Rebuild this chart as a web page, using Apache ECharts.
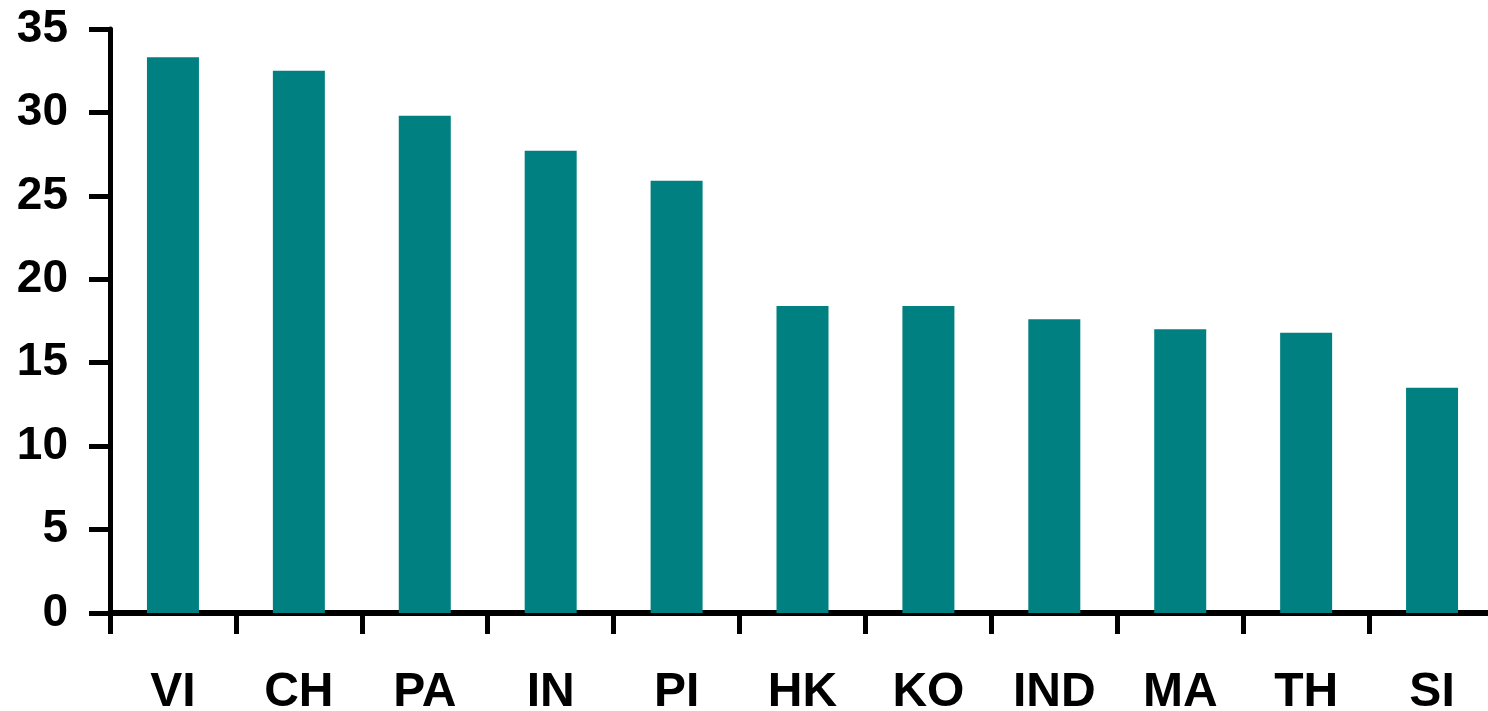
<!DOCTYPE html>
<html>
<head>
<meta charset="utf-8">
<script src="https://cdn.jsdelivr.net/npm/echarts@6/dist/echarts.min.js"></script>
<style>
  html, body { margin: 0; padding: 0; background: #ffffff; overflow: hidden; }
  #chart { width: 1495px; height: 711px; }
</style>
</head>
<body>
<div id="chart"></div>
<script>
// Market codes along the x axis
const categories = ['VI', 'CH', 'PA', 'IN', 'PI', 'HK', 'KO', 'IND', 'MA', 'TH', 'SI'];
// Bar heights, one per market
const values = [33.3, 32.5, 29.8, 27.7, 25.9, 18.4, 18.4, 17.6, 17.0, 16.8, 13.5];
// Value axis range and step
const yMin = 0;
const yMax = 35;
const yStep = 5;

const chart = echarts.init(document.getElementById('chart'), null, { renderer: 'canvas' });

const labelFont = {
  fontFamily: 'Liberation Sans, Arial, sans-serif',
  fontWeight: 'bold',
  color: '#000000'
};

chart.setOption({
  animation: false,
  backgroundColor: '#ffffff',
  // the plot runs a little past the right edge of the page, so the last boundary tick is cut off
  grid: { left: 110, right: 0, top: 29, bottom: 98, containLabel: false, outerBoundsMode: 'none' },
  xAxis: {
    type: 'category',
    data: categories,
    boundaryGap: true,
    axisLine: { show: true, lineStyle: { color: '#000000', width: 6 } },
    axisTick: { show: true, alignWithLabel: false, length: 21, lineStyle: { color: '#000000', width: 5 } },
    axisLabel: Object.assign({ margin: 56, interval: 0, fontSize: 48 }, labelFont),
    splitLine: { show: false }
  },
  yAxis: {
    type: 'value',
    min: yMin,
    max: yMax,
    interval: yStep,
    axisLine: { show: true, lineStyle: { color: '#000000', width: 5 } },
    axisTick: { show: true, length: 21, lineStyle: { color: '#000000', width: 5 } },
    axisLabel: Object.assign({ margin: 42, fontSize: 46 }, labelFont),
    splitLine: { show: false }
  },
  series: [{
    type: 'bar',
    data: values,
    barWidth: 52,
    itemStyle: { color: '#008080' },
    z: 1
  }]
});
</script>
</body>
</html>
